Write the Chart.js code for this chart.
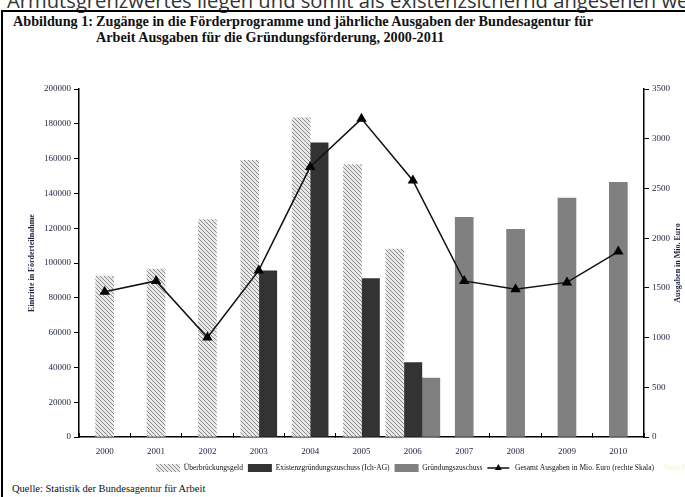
<!DOCTYPE html>
<html>
<head>
<meta charset="utf-8">
<script src="https://cdn.jsdelivr.net/npm/chart.js@4"></script>
<style>
body { margin:0; width:685px; height:497px; overflow:hidden; background:#fff; position:relative; font-family:"Liberation Serif", serif; }
#oben { position:absolute; left:7px; top:-14px; font-family:"Open Sans", sans-serif; font-size:20.2px; color:#333; white-space:nowrap; }
#rahmen { position:absolute; left:1px; top:10px; width:720px; height:520px; border-left:2px solid #000; border-top:2px solid #000; }
#titel { position:absolute; left:13px; top:13px; font-weight:bold; font-size:14.2px; line-height:16px; color:#111; white-space:nowrap; display:flex; }
#titel .nr { margin-right:3px; }
#quelle { position:absolute; left:12px; top:483px; font-size:10.5px; color:#111; white-space:nowrap; }
#grafik { position:absolute; left:0; top:0; }
</style>
</head>
<body>
<div id="oben">Armutsgrenzwertes liegen und somit als existenzsichernd angesehen werden</div>
<div id="rahmen"></div>
<div id="titel">
  <div class="nr">Abbildung 1:</div>
  <div>
    <div>Zugänge in die Förderprogramme und jährliche Ausgaben der Bundesagentur für</div>
    <div>Arbeit Ausgaben für die Gründungsförderung, 2000-2011</div>
  </div>
</div>
<div id="quelle">Quelle: Statistik der Bundesagentur für Arbeit</div>
<canvas id="grafik" width="685" height="497"></canvas>
<script>
// Daten
const jahre = ['2000', '2001', '2002', '2003', '2004', '2005', '2006', '2007', '2008', '2009', '2010'];
const ueberbrueckungsgeld = [92500, 96500, 125000, 159000, 183500, 156500, 108000, null, null, null, null];
const ichAG = [null, null, null, 95500, 169000, 91000, 42800, null, null, null, null];
const gruendungszuschuss = [null, null, null, null, null, null, 33800, 126300, 119400, 137300, 146300];
const ausgabenMioEuro = [1460, 1570, 1000, 1675, 2715, 3200, 2580, 1570, 1485, 1555, 1865];

const schrift = '"Liberation Serif", serif';
const tickFarbe = '#1c2340';

// Schraffur für Überbrückungsgeld
function schraffur() {
    const c = document.createElement('canvas');
    c.width = 4; c.height = 4;
    const g = c.getContext('2d');
    g.fillStyle = '#e8e8e8';
    g.fillRect(0, 0, 4, 4);
    g.strokeStyle = '#8a8a8a';
    g.lineWidth = 1;
    g.beginPath();
    g.moveTo(0, 0); g.lineTo(4, 4);
    g.moveTo(-1, 3); g.lineTo(1, 5);
    g.moveTo(3, -1); g.lineTo(5, 1);
    g.stroke();
    return g.createPattern(c, 'repeat');
}

// Legende: Linie mit Dreieck, "Serie4", rechter Achsentitel
const extras = {
    id: 'extras',
    afterLayout(chart) {
        chart.legend.left = 151;
        chart.legend.right = 685;
    },
    afterDraw(chart) {
        const ctx = chart.ctx;
        const idx = chart.legend.legendItems.findIndex(it => it.datasetIndex === 3);
        const hb = chart.legend.legendHitBoxes[idx];
        ctx.save();
        if (hb) {
            const y = hb.top + hb.height / 2;
            ctx.strokeStyle = '#111';
            ctx.lineWidth = 1.5;
            ctx.beginPath();
            ctx.moveTo(hb.left, y);
            ctx.lineTo(hb.left + 22, y);
            ctx.stroke();
            ctx.fillStyle = '#000';
            Chart.helpers.drawPoint(ctx, { pointStyle: 'triangle', radius: 4, rotation: 0, borderWidth: 0 }, hb.left + 11, y);
            ctx.font = '8px ' + schrift;
            ctx.fillStyle = '#fff3b0';
            ctx.textBaseline = 'middle';
            ctx.fillText('Serie4', hb.left + hb.width + 10, y);
        }
        // rechter Achsentitel, wie links von unten nach oben
        const ca = chart.chartArea;
        ctx.translate(678, (ca.top + ca.bottom) / 2);
        ctx.rotate(-Math.PI / 2);
        ctx.font = 'bold 8px ' + schrift;
        ctx.fillStyle = tickFarbe;
        ctx.textAlign = 'center';
        ctx.textBaseline = 'middle';
        ctx.fillText('Ausgaben in Mio. Euro', 0, 0);
        ctx.restore();
    }
};

const achse = (titel, min, max, schritt, pos, breite) => ({
    position: pos,
    min: min,
    max: max,
    ticks: { stepSize: schritt, color: tickFarbe, font: { family: schrift, size: 9 }, padding: 3, callback: (v) => String(v) },
    grid: { drawOnChartArea: false, drawTicks: true, tickLength: 5, color: '#000' },
    border: { color: '#000', width: 1.5 },
    title: { display: !!titel, text: titel, color: tickFarbe, font: { family: schrift, size: 8, weight: 'bold' }, padding: 2 },
    afterFit: (s) => { s.width = breite; }
});

new Chart(document.getElementById('grafik'), {
    type: 'bar',
    data: {
        labels: jahre,
        datasets: [
            { label: 'Überbrückungsgeld', data: ueberbrueckungsgeld, backgroundColor: schraffur(), yAxisID: 'y', order: 1 },
            { label: 'Existenzgründungszuschuss (Ich-AG)', data: ichAG, backgroundColor: '#333333', yAxisID: 'y', order: 1 },
            { label: 'Gründungszuschuss', data: gruendungszuschuss, backgroundColor: '#808080', yAxisID: 'y', order: 1 },
            {
                type: 'line', label: 'Gesamt Ausgaben in Mio. Euro (rechte Skala)', data: ausgabenMioEuro, yAxisID: 'y1', order: 0,
                borderColor: '#111', borderWidth: 1.5, tension: 0,
                pointStyle: 'triangle', pointRadius: 4.5, pointBackgroundColor: '#000', pointBorderColor: '#000'
            }
        ]
    },
    options: {
        responsive: false,
        animation: false,
        datasets: { bar: { barThickness: 18, skipNull: true } },
        layout: { padding: { top: 89, left: 25, right: 0, bottom: 15 } },
        scales: {
            x: {
                grid: { drawOnChartArea: false, offset: true, tickLength: -4, color: '#000' },
                border: { color: '#000', width: 1.5 },
                ticks: { color: tickFarbe, font: { family: schrift, size: 9 }, padding: 13 },
                afterFit: (s) => { s.height = 22; }
            },
            y: achse('Eintritte in Förderteilnahme', 0, 200000, 20000, 'left', 54),
            y1: achse('', 0, 3500, 500, 'right', 41)
        },
        plugins: {
            tooltip: { enabled: false },
            legend: {
                position: 'bottom',
                align: 'start',
                labels: {
                    boxWidth: 24, boxHeight: 8, padding: 5, color: '#111',
                    font: { family: schrift, size: 7.5 },
                    generateLabels(chart) {
                        const items = Chart.defaults.plugins.legend.labels.generateLabels(chart);
                        items.sort((a, b) => a.datasetIndex - b.datasetIndex);
                        items.forEach(it => {
                            it.lineWidth = 0;
                            if (it.datasetIndex === 3) {
                                it.fillStyle = 'rgba(0,0,0,0)';
                                it.strokeStyle = 'rgba(0,0,0,0)';
                            }
                        });
                        return items;
                    }
                }
            }
        }
    },
    plugins: [extras]
});
</script>
</body>
</html>
